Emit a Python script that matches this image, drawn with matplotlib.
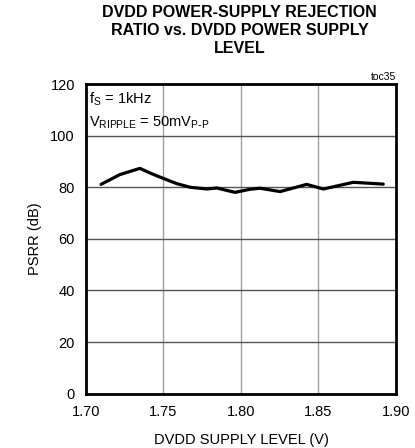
import matplotlib
matplotlib.use('Agg')
import matplotlib.pyplot as plt

plt.rcParams['font.family'] = ['Liberation Sans', 'DejaVu Sans']

# curve
vdd = [1.7097, 1.7219, 1.7348, 1.7413, 1.7499, 1.7585, 1.767, 1.7779, 1.7843,
       1.7961, 1.8058, 1.8123, 1.8252, 1.8424, 1.8531, 1.8725, 1.8918]
psrr = [81.1, 84.9, 87.3, 85.5, 83.4, 81.4, 80.0, 79.3, 79.7,
        78.0, 79.2, 79.6, 78.3, 81.1, 79.3, 81.9, 81.2]
xticks = [1.70, 1.75, 1.80, 1.85, 1.90]
xlabels = ['1.70', '1.75', '1.80', '1.85', '1.90']
yticks = [0, 20, 40, 60, 80, 100, 120]

fig = plt.figure(figsize=(4.15, 4.48), dpi=100)
ax = fig.add_axes([0.2072, 0.1214, 0.747, 0.6911])

for v in xticks[1:-1]:
    ax.axvline(v, color='#a0a0a0', lw=1.0, zorder=1)
for p in yticks[1:-1]:
    ax.axhline(p, color='#555555', lw=1.0, zorder=1)

ax.plot(vdd, psrr, color='black', lw=2.3, solid_capstyle='round',
        solid_joinstyle='round', zorder=3)

ax.set_xlim(1.70, 1.90)
ax.set_ylim(0, 120)
ax.set_xticks(xticks)
ax.set_xticklabels(xlabels)
ax.set_yticks(yticks)
ax.tick_params(length=0, labelsize=10.5, pad=8)
for s in ax.spines.values():
    s.set_linewidth(2.0)

ax.set_xlabel('DVDD SUPPLY LEVEL (V)', fontsize=10.5, labelpad=10)
ax.set_ylabel('PSRR (dB)', fontsize=10.5, labelpad=6)

ax.text(0.01, 0.95, r'f$_\mathregular{S}$ = 1kHz', transform=ax.transAxes,
        fontsize=10.5, va='center', ha='left')
ax.text(0.01, 0.875, r'V$_\mathregular{RIPPLE}$ = 50mV$_\mathregular{P\text{-}P}$',
        transform=ax.transAxes, fontsize=10.5, va='center', ha='left')
ax.text(1.0, 1.005, 'toc35', transform=ax.transAxes, fontsize=7.5,
        ha='right', va='bottom')

fig.text(0.578, 0.988, 'DVDD POWER-SUPPLY REJECTION\nRATIO vs. DVDD POWER SUPPLY\nLEVEL',
         ha='center', va='top', fontsize=11.5, fontweight='bold', linespacing=1.25)

fig.savefig('out.png', dpi=100)
